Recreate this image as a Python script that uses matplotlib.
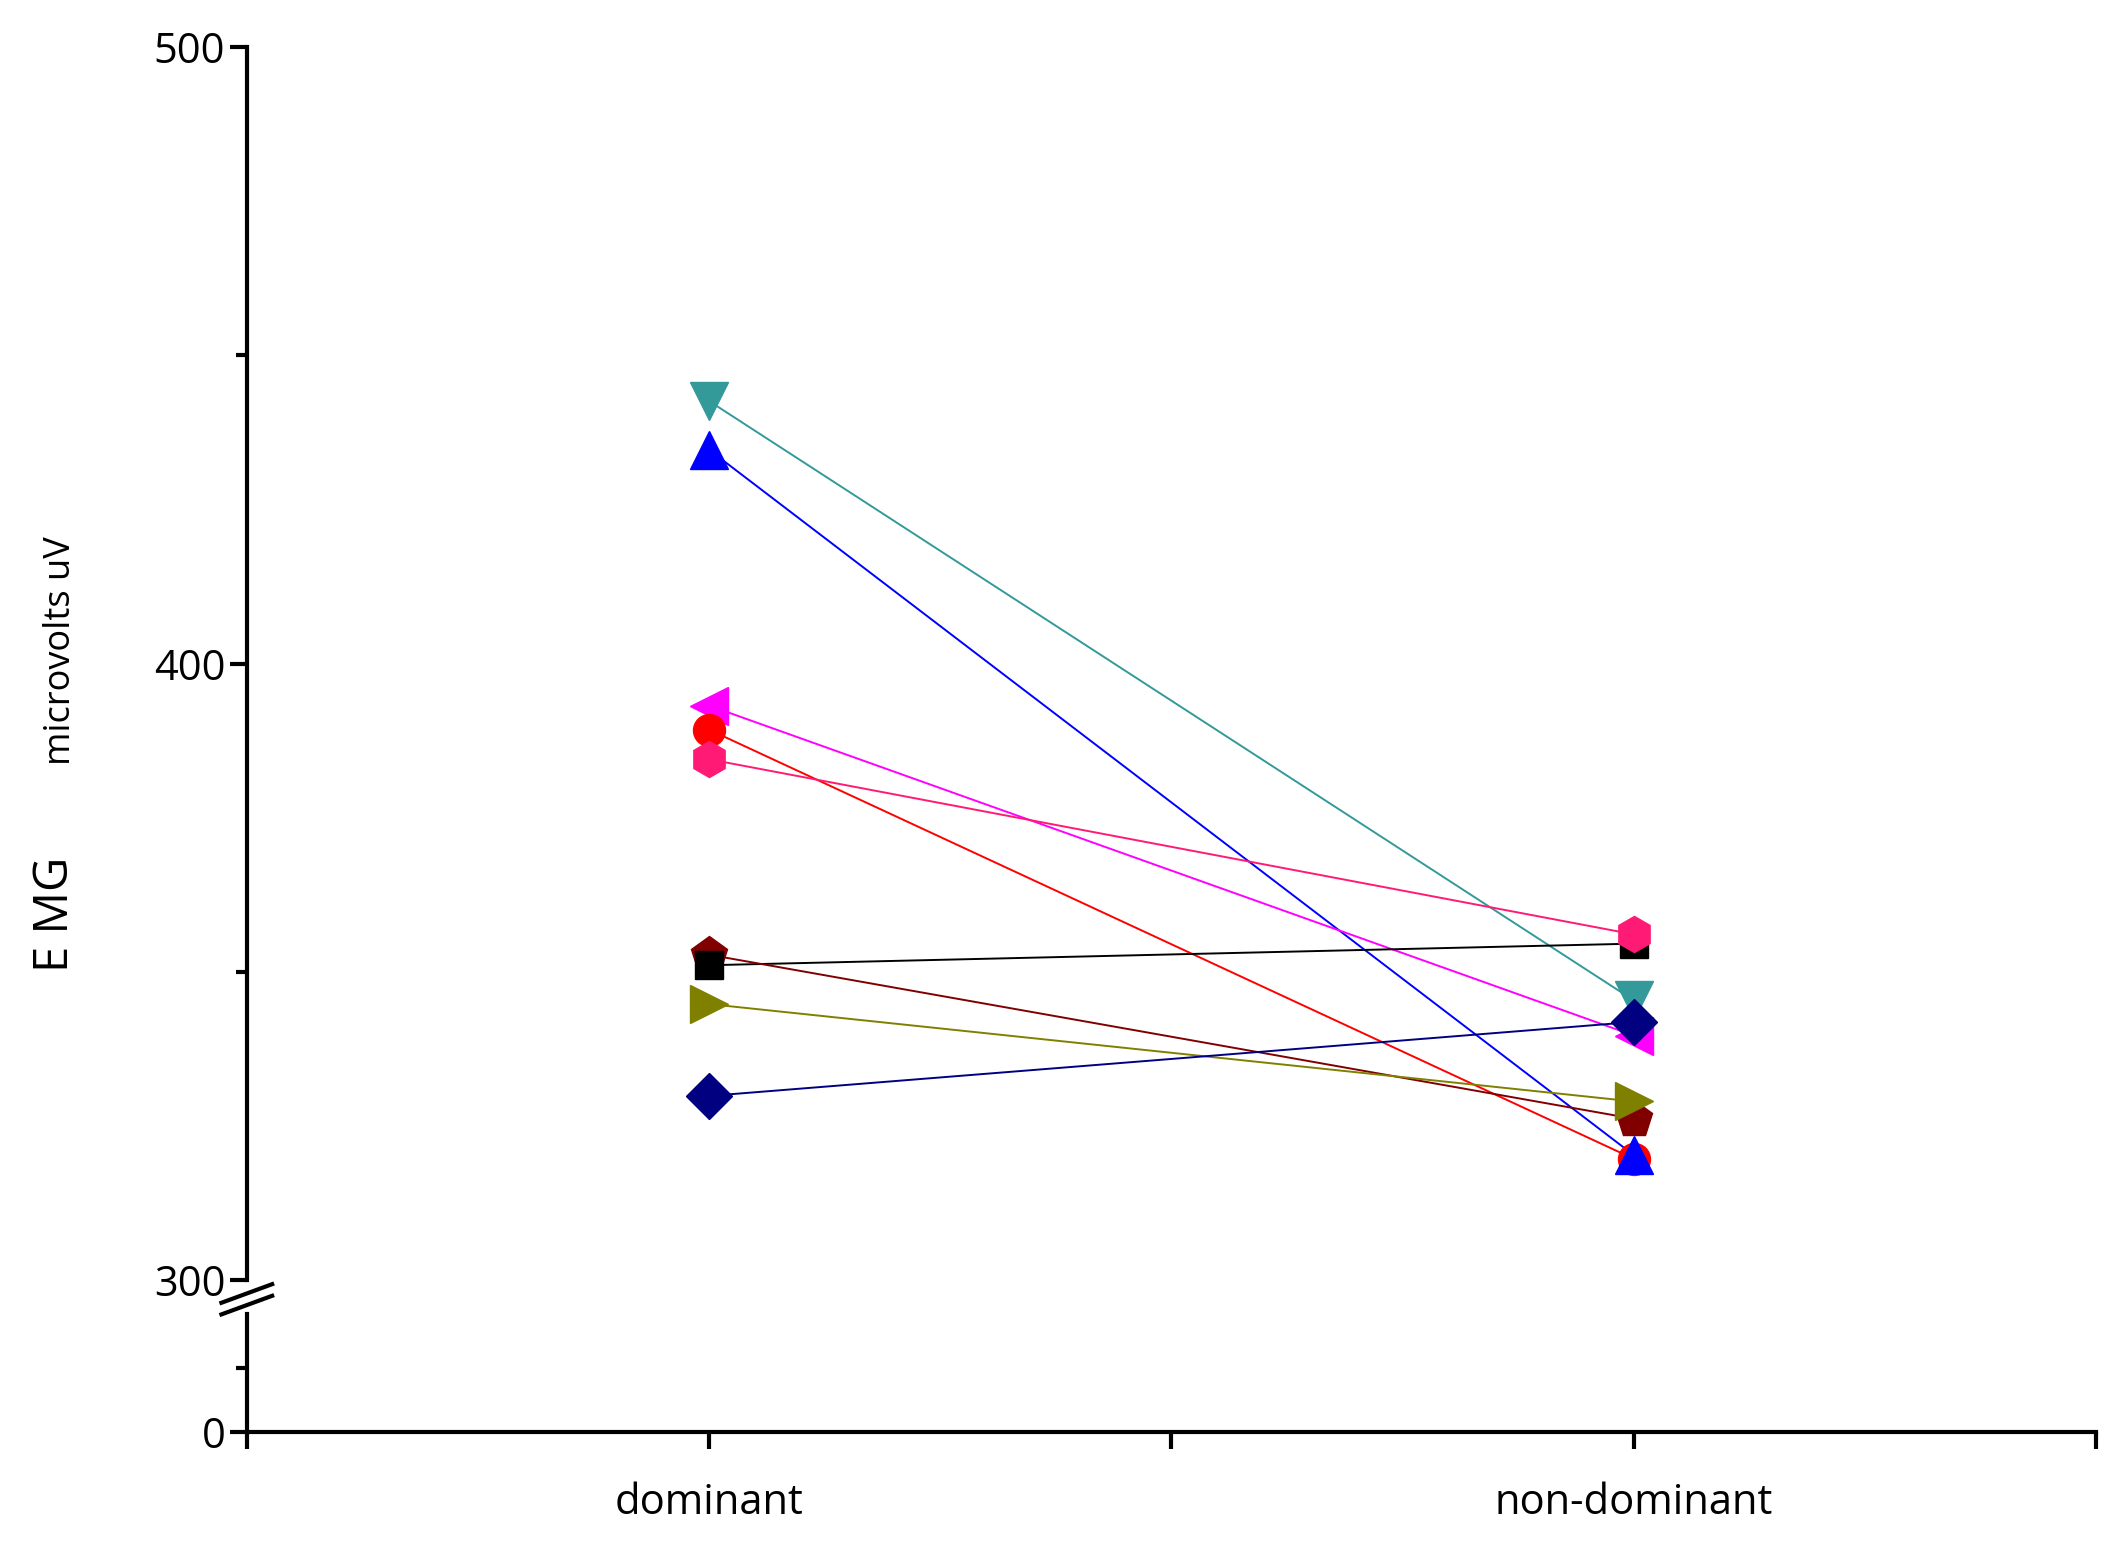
import matplotlib
matplotlib.use("Agg")
import matplotlib.pyplot as plt

categories = ["dominant", "non-dominant"]
dominant = [442.6, 434.7, 393.2, 389.3, 384.5, 351.1, 352.8, 344.8, 329.9]
nondominant = [345.4, 320.3, 339.7, 319.7, 356.1, 354.6, 326.2, 329.0, 341.9]
markers = ["v", "^", "<", "o", "h", "s", "p", ">", "D"]
colors = ["#339999", "#0000ff", "#ff00ff", "#ff0000", "#ff1a75", "#000000", "#800000", "#808000", "#000080"]
msizes = [28, 28, 28, 23, 26, 20, 28, 28, 23]
zorders = [3, 5, 3, 4, 6, 5, 3, 3, 4]

plt.rcParams['font.family'] = ['Open Sans', 'DejaVu Sans']
fig = plt.figure(figsize=(21.13, 15.5), dpi=100)
L, R = 0.1168, 0.992
axt = fig.add_axes([L, 0.174, R - L, 0.9696 - 0.174])
axb = fig.add_axes([L, 0.0764, R - L, 0.152 - 0.0764])

for ax in (axt, axb):
    ax.set_xlim(-0.5, 1.5)
    for s in ("top", "right"):
        ax.spines[s].set_visible(False)
    ax.spines["left"].set_linewidth(3)
    ax.tick_params(axis="both", direction="out", width=3, length=12, labelsize=30)
    ax.patch.set_alpha(0)

axt.set_ylim(300, 500)
axt.set_yticks([300, 400, 500])
axt.set_yticks([350, 450], minor=True)
axt.tick_params(axis="y", which="minor", width=3, length=8)
axt.spines["bottom"].set_visible(False)
axt.set_xticks([])

axb.set_ylim(0, 185)
axb.set_yticks([0])
axb.set_yticks([100], minor=True)
axb.tick_params(axis="y", which="minor", width=3, length=8)
axb.spines["bottom"].set_linewidth(3)
axb.set_xticks([-0.5, 0, 0.5, 1, 1.5])
axb.set_xticklabels(["", categories[0], "", categories[1], ""])
axb.tick_params(axis="x", pad=24)

for d, n, m, c, ms, z in zip(dominant, nondominant, markers, colors, msizes, zorders):
    axt.plot([0, 1], [d, n], color=c, lw=1.4, zorder=2)
    axt.plot([0, 1], [d, n], ls="none", marker=m, color=c, ms=ms, zorder=z, clip_on=False)

# break marks
for yy in (0.1655, 0.158):
    fig.add_artist(plt.Line2D([L - 0.012, L + 0.012], [yy - 0.006, yy + 0.006],
                              color="black", lw=3, transform=fig.transFigure))
fig.add_artist(plt.Rectangle((L - 0.003, 0.156), 0.006, 0.012, color="white",
                             transform=fig.transFigure, zorder=1))

fig.text(0.026, 0.41, "E MG", rotation=90, fontsize=34, va="center", ha="center")
fig.text(0.029, 0.58, "microvolts uV", rotation=90, fontsize=26, va="center", ha="center")

fig.savefig("out.png", dpi=100)
